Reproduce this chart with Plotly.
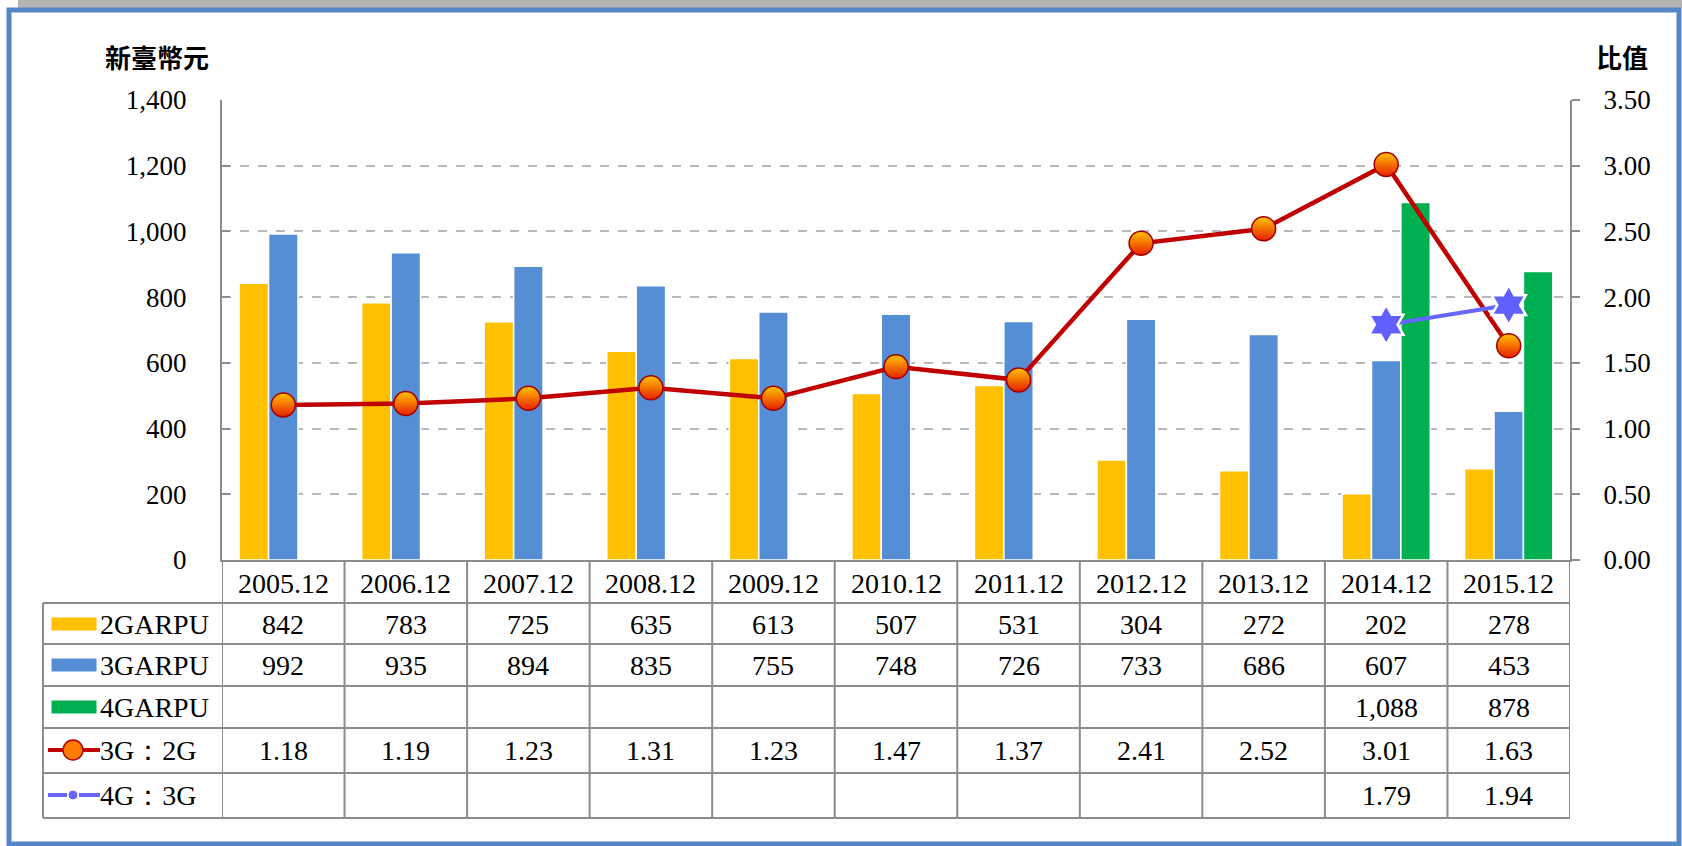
import plotly.graph_objects as go

categories = ["2005.12", "2006.12", "2007.12", "2008.12", "2009.12", "2010.12",
              "2011.12", "2012.12", "2013.12", "2014.12", "2015.12"]
arpu_2g = [842, 783, 725, 635, 613, 507, 531, 304, 272, 202, 278]
arpu_3g = [992, 935, 894, 835, 755, 748, 726, 733, 686, 607, 453]
arpu_4g = [None, None, None, None, None, None, None, None, None, 1088, 878]
ratio_3g2g = [1.18, 1.19, 1.23, 1.31, 1.23, 1.47, 1.37, 2.41, 2.52, 3.01, 1.63]
ratio_4g3g = [None, None, None, None, None, None, None, None, None, 1.79, 1.94]
row_labels = ["2GARPU", "3GARPU", "4GARPU", "3G：2G", "4G：3G"]

W, H = 1682, 846
L, R, T, B = 222, 1570, 100, 560
PW, PH = R - L, B - T


def X(px):
    return (px - L) / PW


def Y(py):
    return (B - py) / PH


C2, C3, C4 = "#ffc000", "#558ed5", "#00b050"
RED, BLUE = "#c00000", "#6666ff"
SERIF = "Liberation Serif, Times New Roman, serif"
CJK = "Noto Sans CJK TC, Noto Sans CJK SC, sans-serif"
GRID = "#8c8c8c"

fig = go.Figure()
fig.add_trace(go.Bar(x=categories, y=arpu_2g, name=row_labels[0], marker=dict(color=C2, line=dict(color="white", width=1.5))))
fig.add_trace(go.Bar(x=categories, y=arpu_3g, name=row_labels[1], marker=dict(color=C3, line=dict(color="white", width=1.5))))
fig.add_trace(go.Bar(x=categories, y=arpu_4g, name=row_labels[2], marker=dict(color=C4, line=dict(color="white", width=1.5))))
fig.add_trace(go.Scatter(
    x=categories, y=ratio_3g2g, name=row_labels[3], yaxis="y2", mode="lines+markers",
    line=dict(color=RED, width=4.5),
    marker=dict(symbol="circle", size=24, color="#ffc400",
                gradient=dict(type="vertical", color="#e81e00"),
                line=dict(color="#a00000", width=1.5))))
fig.add_trace(go.Scatter(
    x=categories, y=ratio_4g3g, name=row_labels[4], yaxis="y2", mode="lines+markers",
    line=dict(color=BLUE, width=4),
    marker=dict(symbol="hexagram", size=30, color="#6060ff", line=dict(color="white", width=2.5))))

shapes = []
annotations = []

# top shadow and blue frame
shapes.append(dict(type="rect", xref="paper", yref="paper", x0=X(18), x1=X(1682), y0=Y(8), y1=Y(0),
                   fillcolor="#b4b4b4", line=dict(width=0), layer="below"))
shapes.append(dict(type="rect", xref="paper", yref="paper", x0=X(9), x1=X(1679), y0=Y(844), y1=Y(10),
                   fillcolor="white", line=dict(color="#5585c5", width=5), layer="below"))

# table lines
row_lines = [603, 644, 686, 728, 773, 818]
for py in row_lines:
    shapes.append(dict(type="line", xref="paper", yref="paper", x0=X(43), x1=X(R), y0=Y(py), y1=Y(py),
                       line=dict(color=GRID, width=2)))
shapes.append(dict(type="line", xref="paper", yref="paper", x0=X(43), x1=X(43), y0=Y(603), y1=Y(818),
                   line=dict(color=GRID, width=2)))
for k in range(len(categories) + 1):
    shapes.append(dict(type="line", xref="x", yref="paper", x0=k - 0.5, x1=k - 0.5, y0=Y(560), y1=Y(818),
                       line=dict(color=GRID, width=2)))

# header row (categories)
for i, c in enumerate(categories):
    annotations.append(dict(x=i, xref="x", y=Y(583), yref="paper", text=c, showarrow=False,
                            font=dict(family=SERIF, size=28, color="black"),
                            xanchor="center", yanchor="middle"))

row_centers = [624, 665, 707, 750, 795]
rows = [arpu_2g, arpu_3g, arpu_4g, ratio_3g2g, ratio_4g3g]
fmts = ["{:,.0f}", "{:,.0f}", "{:,.0f}", "{:.2f}", "{:.2f}"]
for vals, cy, fmt in zip(rows, row_centers, fmts):
    for i, v in enumerate(vals):
        if v is None:
            continue
        annotations.append(dict(x=i, xref="x", y=Y(cy), yref="paper", text=fmt.format(v), showarrow=False,
                                font=dict(family=SERIF, size=28, color="black"),
                                xanchor="center", yanchor="middle"))

# legend column
for lab, cy in zip(row_labels, row_centers):
    annotations.append(dict(x=X(98), xref="paper", y=Y(cy), yref="paper", text=lab, showarrow=False,
                            xanchor="left", yanchor="middle",
                            font=dict(family=SERIF, size=28, color="black")))
for col, cy in zip([C2, C3, C4], row_centers[:3]):
    shapes.append(dict(type="rect", xref="paper", yref="paper", x0=X(51), x1=X(97), y0=Y(cy + 7), y1=Y(cy - 7),
                       fillcolor=col, line=dict(color="white", width=1)))
cy = row_centers[3]
shapes.append(dict(type="line", xref="paper", yref="paper", x0=X(48), x1=X(100), y0=Y(cy), y1=Y(cy),
                   line=dict(color=RED, width=4)))
shapes.append(dict(type="circle", xref="paper", yref="paper", x0=X(63), x1=X(83), y0=Y(cy + 10), y1=Y(cy - 10),
                   fillcolor="#ff7a00", line=dict(color="#b00000", width=1.5)))
cy = row_centers[4]
for a, b in [(48, 67), (79, 100)]:
    shapes.append(dict(type="line", xref="paper", yref="paper", x0=X(a), x1=X(b), y0=Y(cy), y1=Y(cy),
                       line=dict(color=BLUE, width=4)))
shapes.append(dict(type="circle", xref="paper", yref="paper", x0=X(69), x1=X(77), y0=Y(cy + 4), y1=Y(cy - 4),
                   fillcolor=BLUE, line=dict(color=BLUE, width=1)))

# axis titles
annotations.append(dict(x=X(157), xref="paper", y=Y(57), yref="paper", text="<b>新臺幣元</b>", showarrow=False,
                        font=dict(family=CJK, size=26, color="black"), xanchor="center", yanchor="middle"))
annotations.append(dict(x=X(1622), xref="paper", y=Y(57), yref="paper", text="<b>比值</b>", showarrow=False,
                        font=dict(family=CJK, size=26, color="black"), xanchor="center", yanchor="middle"))

fig.update_layout(
    width=W, height=H,
    margin=dict(l=L, r=W - R, t=T, b=H - B, pad=0, autoexpand=False),
    paper_bgcolor="white", plot_bgcolor="#ffccff",
    barmode="group", bargap=0.28, bargroupgap=0,
    showlegend=False,
    xaxis=dict(type="category", range=[-0.5, len(categories) - 0.5], showticklabels=False, ticks="",
               showgrid=False, showline=True, linecolor=GRID, linewidth=2, zeroline=False),
    yaxis=dict(range=[0, 1400], dtick=200, tickformat=",", showgrid=True, gridcolor="#b8b8b8",
               griddash="dash", gridwidth=1.5, ticks="inside", ticklen=8, tickcolor=GRID, tickwidth=2,
               showline=True, linecolor=GRID, linewidth=2, zeroline=False, ticklabelstandoff=28,
               tickfont=dict(family=SERIF, size=27, color="black")),
    yaxis2=dict(range=[0, 3.5], dtick=0.5, tickformat=".2f", overlaying="y", side="right", showgrid=False,
                ticks="outside", ticklen=8, tickcolor=GRID, tickwidth=2, showline=True, linecolor=GRID,
                linewidth=2, zeroline=False, ticklabelstandoff=18,
                tickfont=dict(family=SERIF, size=27, color="black")),
    shapes=shapes, annotations=annotations,
)

fig.write_html("out.html", config={"displayModeBar": False, "displaylogo": False},
               post_script="document.body.style.margin='0';document.body.style.overflow='hidden';")
